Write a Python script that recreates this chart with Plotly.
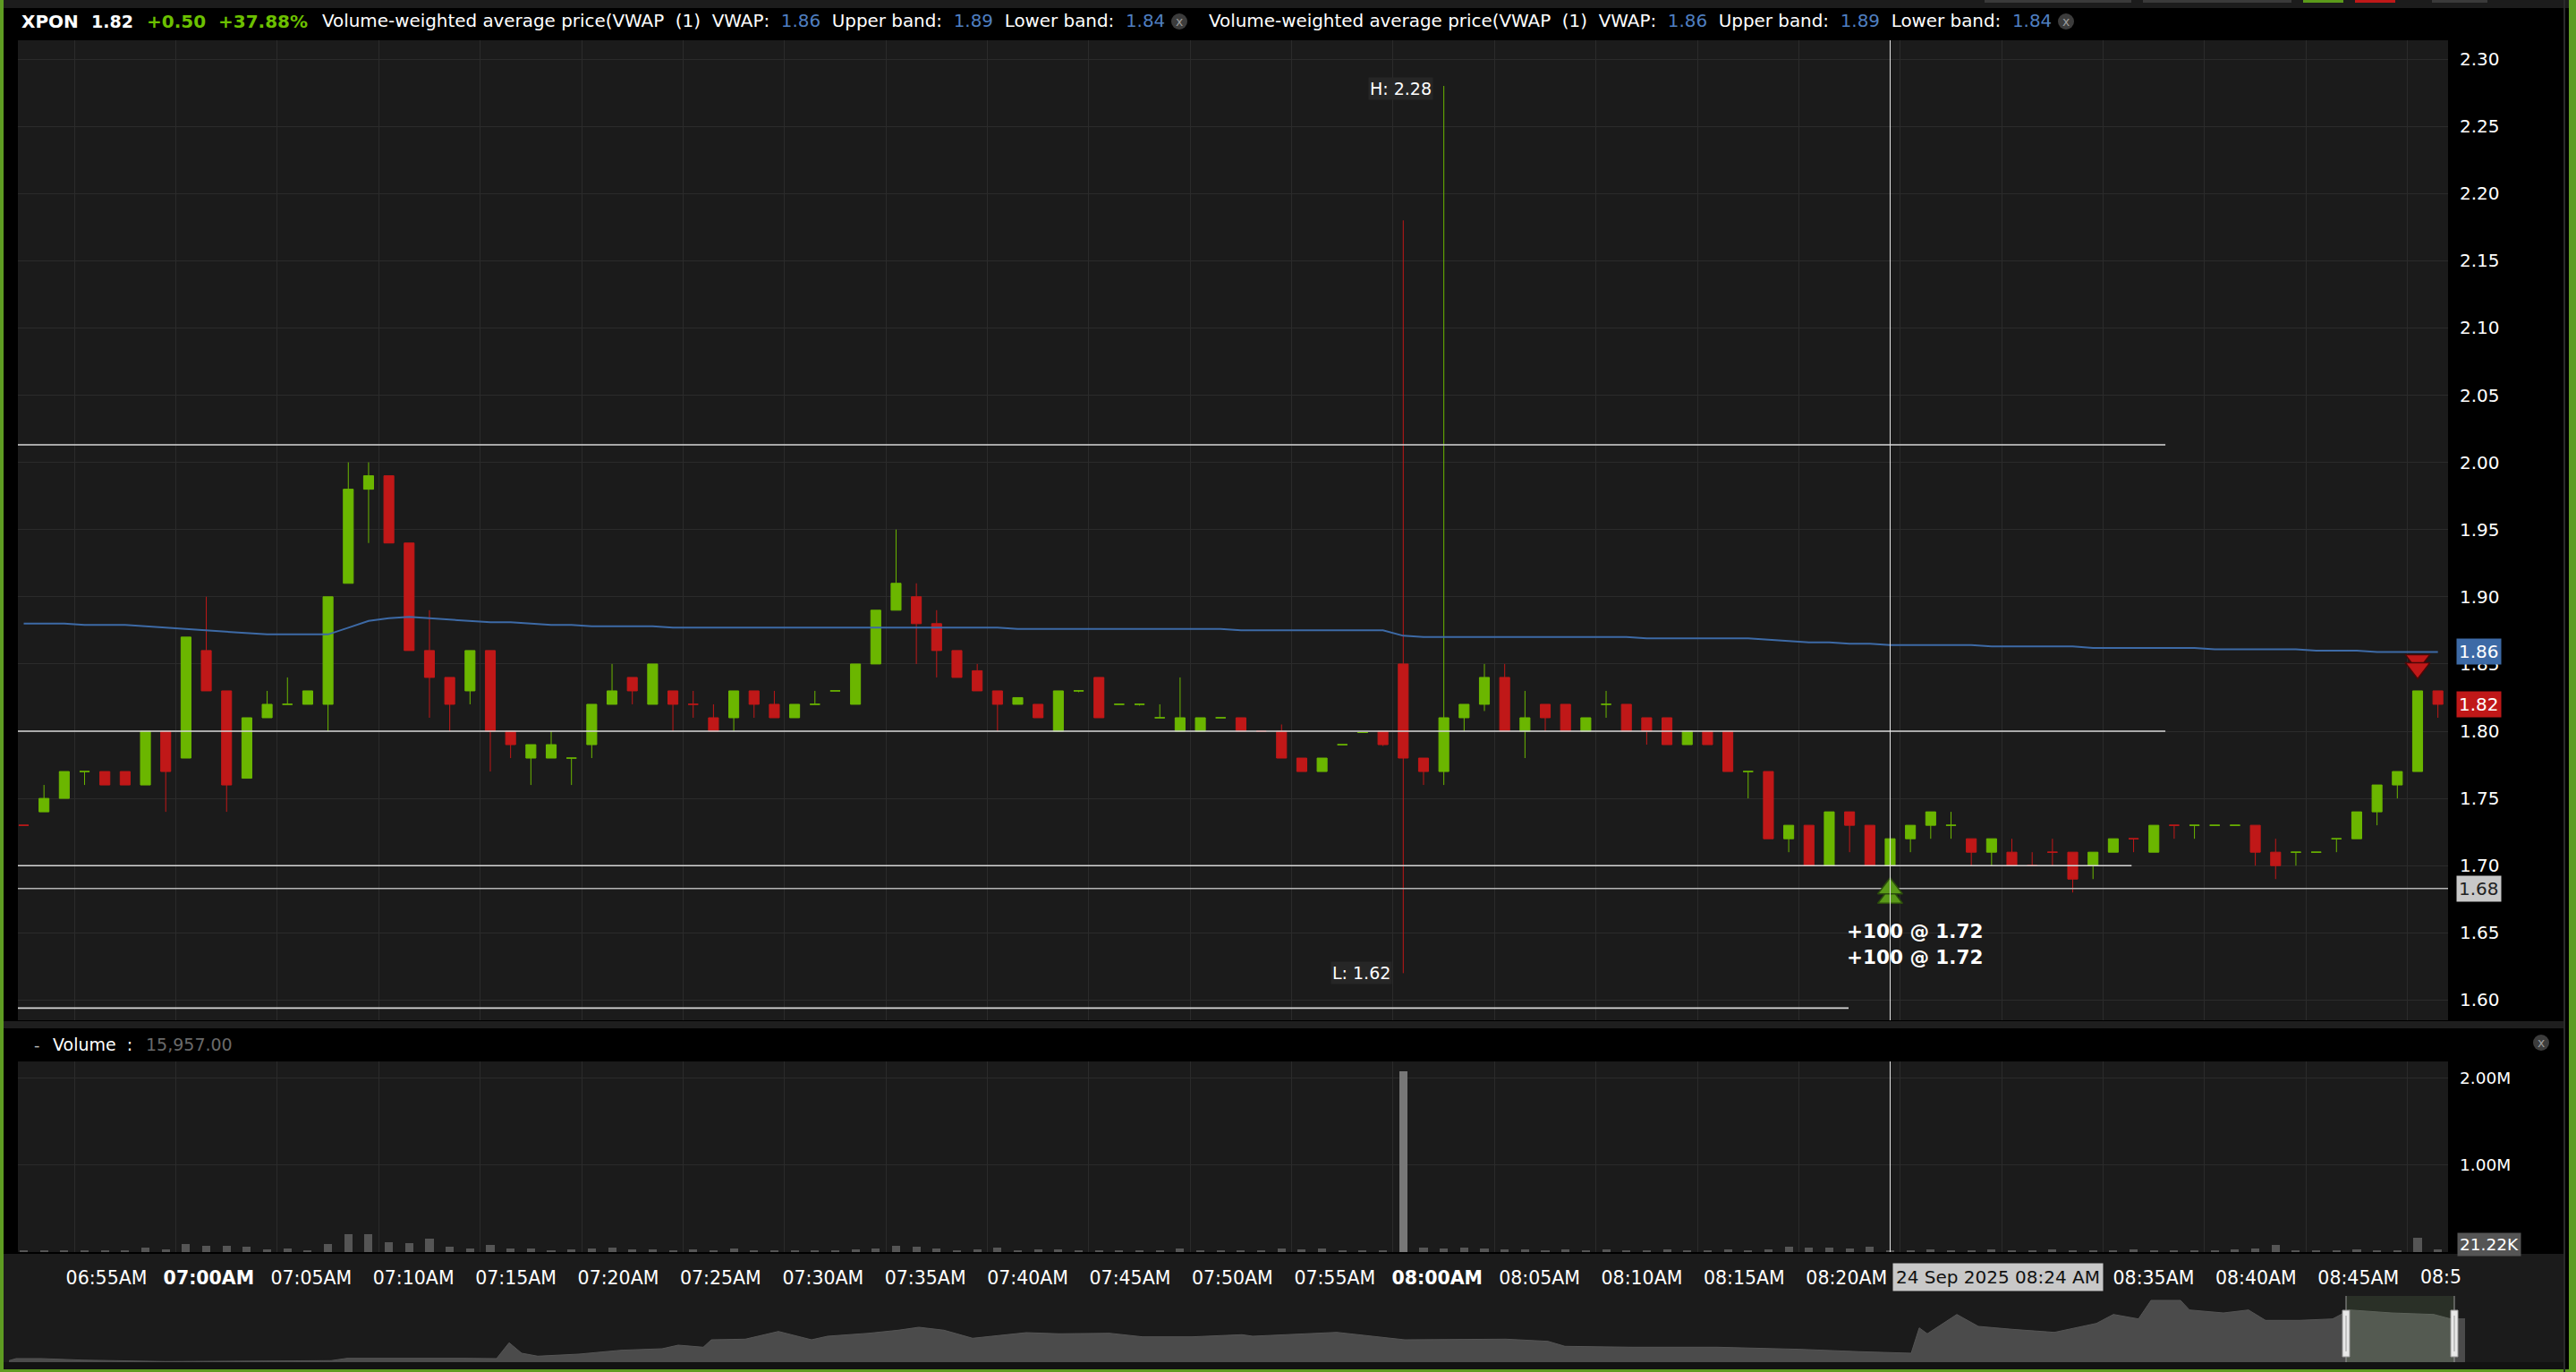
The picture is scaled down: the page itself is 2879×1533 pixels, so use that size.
import plotly.graph_objects as go
import pandas as pd

# ------------------------------------------------------------------ data
SESSION_START = "2025-09-24 06:52"          # first 1-minute bar shown
opens = [1.73, 1.74, 1.75, 1.77, 1.77, 1.77, 1.76, 1.80, 1.78, 1.86,
         1.83, 1.765, 1.81, 1.82, 1.82, 1.82, 1.91, 1.98, 1.99, 1.94,
         1.86, 1.84, 1.83, 1.86, 1.80, 1.78, 1.78, 1.78, 1.79, 1.82,
         1.84, 1.82, 1.83, 1.82, 1.81, 1.81, 1.83, 1.82, 1.81, 1.82,
         1.83, 1.82, 1.85, 1.89, 1.90, 1.88, 1.86, 1.845, 1.83, 1.82,
         1.82, 1.80, 1.83, 1.84, 1.82, 1.82, 1.81, 1.80, 1.80, 1.81,
         1.81, 1.80, 1.80, 1.78, 1.77, 1.79, 1.799, 1.80, 1.85, 1.78,
         1.77, 1.81, 1.82, 1.84, 1.80, 1.82, 1.82, 1.80, 1.82, 1.82,
         1.81, 1.81, 1.79, 1.80, 1.80, 1.77, 1.77, 1.72, 1.73, 1.70,
         1.74, 1.73, 1.70, 1.72, 1.73, 1.73, 1.72, 1.71, 1.71, 1.70,
         1.71, 1.71, 1.70, 1.71, 1.72, 1.71, 1.73, 1.73, 1.73, 1.73,
         1.73, 1.71, 1.71, 1.71, 1.72, 1.72, 1.74, 1.76, 1.77, 1.83]
highs = [1.73, 1.76, 1.77, 1.77, 1.77, 1.77, 1.80, 1.80, 1.87, 1.90,
         1.83, 1.81, 1.83, 1.84, 1.83, 1.90, 2.00, 2.00, 1.99, 1.94,
         1.89, 1.84, 1.86, 1.86, 1.80, 1.79, 1.80, 1.78, 1.82, 1.85,
         1.84, 1.85, 1.83, 1.83, 1.82, 1.83, 1.83, 1.83, 1.82, 1.83,
         1.83, 1.85, 1.89, 1.95, 1.91, 1.89, 1.86, 1.85, 1.83, 1.825,
         1.82, 1.83, 1.83, 1.84, 1.82, 1.82, 1.82, 1.84, 1.81, 1.81,
         1.81, 1.80, 1.805, 1.78, 1.78, 1.79, 1.799, 1.80, 2.18, 1.78,
         2.28, 1.82, 1.85, 1.85, 1.83, 1.82, 1.82, 1.81, 1.83, 1.82,
         1.81, 1.81, 1.80, 1.80, 1.80, 1.77, 1.77, 1.73, 1.73, 1.74,
         1.74, 1.73, 1.72, 1.73, 1.74, 1.74, 1.72, 1.72, 1.72, 1.71,
         1.72, 1.71, 1.71, 1.72, 1.72, 1.73, 1.73, 1.73, 1.73, 1.73,
         1.73, 1.72, 1.71, 1.71, 1.72, 1.74, 1.76, 1.77, 1.83, 1.83]
lows = [1.73, 1.74, 1.75, 1.76, 1.76, 1.76, 1.76, 1.74, 1.78, 1.83,
        1.74, 1.765, 1.81, 1.82, 1.82, 1.80, 1.91, 1.94, 1.94, 1.86,
        1.81, 1.80, 1.82, 1.77, 1.78, 1.76, 1.78, 1.76, 1.78, 1.82,
        1.82, 1.82, 1.80, 1.81, 1.80, 1.80, 1.81, 1.81, 1.81, 1.82,
        1.83, 1.82, 1.85, 1.89, 1.85, 1.84, 1.84, 1.83, 1.80, 1.82,
        1.81, 1.80, 1.829, 1.81, 1.82, 1.819, 1.81, 1.80, 1.80, 1.81,
        1.80, 1.80, 1.78, 1.77, 1.77, 1.79, 1.799, 1.789, 1.62, 1.76,
        1.76, 1.80, 1.815, 1.80, 1.78, 1.80, 1.80, 1.80, 1.81, 1.80,
        1.79, 1.79, 1.79, 1.79, 1.77, 1.75, 1.72, 1.71, 1.70, 1.70,
        1.71, 1.70, 1.70, 1.71, 1.72, 1.72, 1.70, 1.70, 1.70, 1.70,
        1.70, 1.68, 1.69, 1.71, 1.71, 1.71, 1.72, 1.72, 1.73, 1.73,
        1.70, 1.69, 1.70, 1.71, 1.71, 1.72, 1.73, 1.75, 1.77, 1.81]
closes = [1.73, 1.75, 1.77, 1.77, 1.76, 1.76, 1.80, 1.77, 1.87, 1.83,
          1.76, 1.81, 1.82, 1.82, 1.83, 1.90, 1.98, 1.99, 1.94, 1.86,
          1.84, 1.82, 1.86, 1.80, 1.79, 1.79, 1.79, 1.78, 1.82, 1.83,
          1.83, 1.85, 1.82, 1.82, 1.80, 1.83, 1.82, 1.81, 1.82, 1.82,
          1.83, 1.85, 1.89, 1.91, 1.88, 1.86, 1.84, 1.83, 1.82, 1.825,
          1.81, 1.83, 1.83, 1.81, 1.82, 1.82, 1.81, 1.81, 1.81, 1.81,
          1.80, 1.80, 1.78, 1.77, 1.78, 1.79, 1.799, 1.79, 1.78, 1.77,
          1.81, 1.82, 1.84, 1.80, 1.81, 1.81, 1.80, 1.81, 1.82, 1.80,
          1.80, 1.79, 1.80, 1.79, 1.77, 1.77, 1.72, 1.73, 1.70, 1.74,
          1.73, 1.70, 1.72, 1.73, 1.74, 1.73, 1.71, 1.72, 1.70, 1.70,
          1.71, 1.69, 1.71, 1.72, 1.72, 1.73, 1.73, 1.73, 1.73, 1.73,
          1.71, 1.70, 1.71, 1.71, 1.72, 1.74, 1.76, 1.77, 1.83, 1.82]
# 1 = green (up) candle, 0 = red (down) candle
up = [0, 1, 1, 1, 0, 0, 1, 0, 1, 0,
      0, 1, 1, 1, 1, 1, 1, 1, 0, 0,
      0, 0, 1, 0, 0, 1, 1, 1, 1, 1,
      0, 1, 0, 0, 0, 1, 0, 0, 1, 1,
      1, 1, 1, 1, 0, 0, 0, 0, 0, 1,
      0, 1, 1, 0, 1, 1, 1, 1, 1, 1,
      0, 0, 0, 0, 1, 1, 1, 0, 0, 0,
      1, 1, 1, 0, 1, 0, 0, 1, 1, 0,
      0, 0, 1, 0, 0, 1, 0, 1, 0, 1,
      0, 0, 1, 1, 1, 1, 0, 1, 0, 0,
      0, 0, 1, 1, 0, 1, 0, 1, 1, 1,
      0, 0, 1, 1, 1, 1, 1, 1, 1, 0]
volumes = [14000, 14000, 13000, 14000, 13000, 14000, 45000, 24000, 86000, 65000,
           65000, 55000, 24000, 34000, 13000, 86000, 200000, 200000, 106000, 96000,
           148000, 55000, 34000, 76000, 34000, 34000, 14000, 24000, 34000, 45000,
           24000, 24000, 14000, 24000, 14000, 34000, 14000, 14000, 13000, 14000,
           13000, 24000, 34000, 65000, 55000, 34000, 14000, 24000, 45000, 14000,
           24000, 24000, 14000, 14000, 13000, 14000, 13000, 34000, 14000, 13000,
           14000, 12000, 34000, 24000, 34000, 14000, 13000, 14000, 2080000, 45000,
           34000, 45000, 34000, 24000, 24000, 14000, 24000, 14000, 24000, 14000,
           14000, 24000, 14000, 14000, 24000, 14000, 24000, 62000, 45000, 45000,
           34000, 55000, 15957, 14000, 24000, 14000, 14000, 24000, 14000, 14000,
           24000, 14000, 14000, 14000, 24000, 14000, 14000, 14000, 14000, 24000,
           34000, 76000, 14000, 14000, 14000, 24000, 14000, 14000, 155000, 21220]
vwap = [1.880, 1.880, 1.880, 1.879, 1.879, 1.879, 1.878, 1.877, 1.876, 1.875,
        1.874, 1.873, 1.872, 1.872, 1.872, 1.872, 1.877, 1.882, 1.884, 1.885,
        1.884, 1.883, 1.882, 1.881, 1.881, 1.880, 1.879, 1.879, 1.878, 1.878,
        1.878, 1.878, 1.877, 1.877, 1.877, 1.877, 1.877, 1.877, 1.877, 1.877,
        1.877, 1.877, 1.877, 1.877, 1.877, 1.877, 1.877, 1.877, 1.877, 1.876,
        1.876, 1.876, 1.876, 1.876, 1.876, 1.876, 1.876, 1.876, 1.876, 1.876,
        1.875, 1.875, 1.875, 1.875, 1.875, 1.875, 1.875, 1.875, 1.871, 1.870,
        1.870, 1.870, 1.870, 1.870, 1.870, 1.870, 1.870, 1.870, 1.870, 1.870,
        1.869, 1.869, 1.869, 1.869, 1.869, 1.869, 1.868, 1.867, 1.866, 1.866,
        1.865, 1.865, 1.864, 1.864, 1.864, 1.864, 1.864, 1.863, 1.863, 1.863,
        1.863, 1.863, 1.862, 1.862, 1.862, 1.862, 1.862, 1.862, 1.861, 1.861,
        1.861, 1.861, 1.861, 1.860, 1.860, 1.860, 1.859, 1.859, 1.859, 1.859]

# horizontal price-level lines: price and the time where each line stops
level_prices = [2.013, 1.80, 1.70, 1.683, 1.594]
level_ends = ["08:38:04", "08:38:04", "08:36:24", "08:53:00", "08:22:27"]

# x-axis labels (every 5 minutes); 08:25 / 08:30 sit under the crosshair time box
tick_times = ["06:55", "07:00", "07:05", "07:10", "07:15", "07:20", "07:25", "07:30",
              "07:35", "07:40", "07:45", "07:50", "07:55", "08:00", "08:05", "08:10",
              "08:15", "08:20", "08:25", "08:30", "08:35", "08:40", "08:45", "08:50"]
bold_ticks = ["07:00", "08:00"]
hidden_ticks = ["08:25", "08:30"]

# trades
buy_time, buy_price, buy_marker = "08:24", 1.72, 1.683
sell_time, sell_marker = "08:50", 1.847

# navigator (whole history, minutes index -> relative price level)
nav_minutes = [10, 18, 46, 92, 185, 277, 370, 388, 462, 518, 555, 569, 583, 601, 647, 694,
               740, 758, 786, 795, 833, 870, 907, 925, 971, 1004, 1027, 1055, 1087, 1110,
               1147, 1184, 1240, 1277, 1332, 1388, 1400, 1494, 1570, 1683, 1730, 1749, 1824,
               1919, 2013, 2079, 2136, 2145, 2154, 2187, 2211, 2249, 2296, 2343, 2362, 2390,
               2404, 2437, 2447, 2485, 2513, 2532, 2570, 2607, 2626, 2673, 2720, 2739, 2755]
nav_level = [1.7, 4, 4, 2.3, 0.7, 1.3, 1.7, 4.3, 4.7, 4.3, 4, 21.7, 10, 6.7, 9, 13.3,
             15, 19, 16.7, 25, 25.7, 34.3, 25, 29, 32.3, 35.7, 39, 35.7, 26.7, 29,
             33, 31.7, 32.3, 28.3, 28.3, 30.7, 29, 33.3, 25, 25.7, 23.3, 17.7, 16.7,
             16.7, 14.3, 11.7, 10, 38.3, 31.7, 53.3, 40, 36.7, 33.3, 43.3, 53.3, 48.3,
             69, 69, 58.3, 55, 58.3, 46.7, 46.7, 48.3, 58.3, 55, 53.3, 48.3, 48.3]
nav_window = [2622, 2743]

# ------------------------------------------------------------------ geometry helpers
W, H = 2879, 1533
ML, MR, MT, MB = 10, 124, 45, 11
PW, PH = W - ML - MR, H - MT - MB


def px(X):
    return (X - ML) / PW


def py(Y):
    return (H - MB - Y) / PH


DAY = "2025-09-24 "
n = len(opens)
bar_start = pd.date_range(SESSION_START, periods=n, freq="1min")
bar_mid = bar_start + pd.Timedelta(seconds=30)
x_range = [pd.Timestamp(DAY + "06:52:12.8"), pd.Timestamp(DAY + "08:52:00")]

GREEN = "#6bb600"
RED = "#c01818"
BLUE = "#3d6aa6"
GRID = "#2b2b2b"
PLOTBG = "#1b1b1b"
FONT = "DejaVu Sans"

fig = go.Figure()

# candles (one trace per colour so flat bars keep their own colour)
for flag, col in ((1, GREEN), (0, RED)):
    idx = [i for i in range(n) if up[i] == flag]
    fig.add_trace(go.Candlestick(
        x=[bar_mid[i] for i in idx],
        open=[opens[i] for i in idx], high=[highs[i] for i in idx],
        low=[lows[i] for i in idx], close=[closes[i] for i in idx],
        increasing=dict(line=dict(color=col, width=1), fillcolor=col),
        decreasing=dict(line=dict(color=col, width=1), fillcolor=col),
        whiskerwidth=0, showlegend=False, hoverinfo="skip",
        xaxis="x", yaxis="y"))

# VWAP
fig.add_trace(go.Scatter(x=bar_mid, y=vwap, mode="lines",
                         line=dict(color=BLUE, width=2),
                         showlegend=False, hoverinfo="skip", xaxis="x", yaxis="y"))

# level lines
for p, e in zip(level_prices, level_ends):
    col = "#b4b4b4" if abs(p - 1.683) < 1e-9 else "#d8d8d8"
    fig.add_trace(go.Scatter(x=[x_range[0] - pd.Timedelta(minutes=1), pd.Timestamp(DAY + e)],
                             y=[p, p], mode="lines", line=dict(color=col, width=1.6),
                             showlegend=False, hoverinfo="skip", xaxis="x", yaxis="y"))

# trade markers (double chevrons)
bt = pd.Timestamp(DAY + buy_time) + pd.Timedelta(seconds=30)
st = pd.Timestamp(DAY + sell_time) + pd.Timedelta(seconds=30)
fig.add_trace(go.Scatter(x=[bt, bt], y=[buy_marker - 0.007, buy_marker], mode="markers",
                         marker=dict(symbol="triangle-up", size=24, color="#5a9a18",
                                     line=dict(color="#2c4d0c", width=1.5)),
                         showlegend=False, hoverinfo="skip", xaxis="x", yaxis="y"))
fig.add_trace(go.Scatter(x=[st, st], y=[sell_marker + 0.006, sell_marker], mode="markers",
                         marker=dict(symbol="triangle-down", size=24, color="#c01818",
                                     line=dict(color="#4a0808", width=1.5)),
                         showlegend=False, hoverinfo="skip", xaxis="x", yaxis="y"))

# volume
vcol = ["#777777" if v > 1e6 else "#555555" for v in volumes]
fig.add_trace(go.Bar(x=bar_mid, y=volumes, width=24000, marker=dict(color=vcol, line=dict(width=0)),
                     showlegend=False, hoverinfo="skip", xaxis="x2", yaxis="y2"))

# navigator
fig.add_trace(go.Scatter(x=nav_minutes, y=nav_level, mode="lines", fill="tozeroy",
                         line=dict(color="#555555", width=1), fillcolor="#4b4b4b",
                         showlegend=False, hoverinfo="skip", xaxis="x3", yaxis="y3"))

# ------------------------------------------------------------------ axes
grid_vals = [pd.Timestamp(DAY + t) for t in tick_times]
# labels are drawn slightly right of the grid lines (as in the source chart)
lab_vals = [pd.Timestamp(DAY + "06:55") + pd.Timedelta(minutes=1.579 + k * 5 * 1.00909)
            for k in range(len(tick_times))]
lab_text = []
for t in tick_times:
    s = f"{t}AM"
    if t in hidden_ticks:
        s = ""
    elif t in bold_ticks:
        s = f"<b>{s}</b>"
    lab_text.append(s)

dom_x = [px(20), px(2736)]
fig.update_layout(
    width=W, height=H,
    margin=dict(l=ML, r=MR, t=MT, b=MB),
    paper_bgcolor="#000000", plot_bgcolor=PLOTBG,
    font=dict(family=FONT, color="#ffffff", size=20),
    showlegend=False, bargap=0, hovermode=False,
    xaxis=dict(domain=dom_x, anchor="y", matches="x2", range=x_range, type="date",
               showticklabels=False, tickvals=grid_vals, showgrid=True, gridcolor=GRID,
               gridwidth=1, zeroline=False, showline=False, ticks="",
               rangeslider=dict(visible=False)),
    yaxis=dict(domain=[py(1140), 1.0], anchor="x", side="right",
               range=[1.80 - (1140 - 817) / 1502, 1.80 + (817 - 45) / 1502],
               tickvals=[1.60 + 0.05 * k for k in range(15)],
               ticktext=[f"{1.60 + 0.05 * k:.2f}" for k in range(15)],
               showgrid=True, gridcolor=GRID, zeroline=False, ticks="",
               tickfont=dict(family=FONT, size=20, color="#ffffff"),
               ticklabelstandoff=12),
    xaxis2=dict(domain=dom_x, anchor="y2", range=x_range, type="date",
                tickvals=lab_vals, ticktext=lab_text, showgrid=False, zeroline=False, ticks="",
                tickfont=dict(family=FONT, size=20.5, color="#ffffff"), ticklabelstandoff=14,
                minor=dict(tickvals=grid_vals, showgrid=True, gridcolor=GRID, ticks="")),
    yaxis2=dict(domain=[py(1399), py(1186)], anchor="x2", side="right",
                range=[-5000, 2190000], tickvals=[1e6, 2e6], ticktext=["1.00M", "2.00M"],
                showgrid=True, gridcolor=GRID, zeroline=False, ticks="",
                tickfont=dict(family=FONT, size=18.5, color="#ffffff"), ticklabelstandoff=12),
    xaxis3=dict(domain=[0, 1], anchor="y3", range=[10, 2755], visible=False),
    yaxis3=dict(domain=[0, py(1448)], anchor="x3", range=[0, 74], visible=False),
)

# ------------------------------------------------------------------ frame / background shapes
shapes = []


def prect(x0, y0, x1, y1, color, layer="below", line=None):
    shapes.append(dict(type="rect", xref="paper", yref="paper", x0=px(x0), x1=px(x1),
                       y0=py(y1), y1=py(y0), fillcolor=color, layer=layer,
                       line=line or dict(width=0)))


prect(0, 0, 2879, 9, "#1c1c1c")                # top toolbar strip
prect(0, 1141, 2866, 1149, "#1e1e1e")          # separator main/volume
prect(0, 1401, 2866, 1522, "#1b1b1b")          # x-label row + navigator
prect(0, 1522, 2866, 1530, "#121212")
# toolbar buttons (bottom edge visible)
for x0, x1, c in ((2218, 2382, "#3a3a3a"), (2395, 2561, "#3a3a3a"), (2574, 2619, "#5b9a1a"),
                  (2632, 2677, "#c01818"), (2718, 2780, "#3a3a3a")):
    prect(x0, -4, x1, 3, c, layer="above")
# green window frame
prect(0, 0, 4, 1533, "#5e9c22", layer="above")
prect(2871, 0, 2879, 1533, "#5e9c22", layer="above")
prect(0, 1530, 2879, 1533, "#5e9c22", layer="above")
prect(2865, 0, 2867, 1533, "#2a2a2a", layer="above")

# crosshair through both panes
for yr in ("y domain", "y2 domain"):
    shapes.append(dict(type="line", xref="x", yref=yr, x0=bt, x1=bt, y0=0, y1=1,
                       line=dict(color="#e6e6e6", width=1), layer="above"))

# navigator window
w0, w1 = nav_window
shapes.append(dict(type="rect", xref="x3", yref="y3", x0=w0, x1=w1, y0=0, y1=74,
                   fillcolor="rgba(150,190,120,0.13)", line=dict(width=0), layer="above"))
for wx in nav_window:
    shapes.append(dict(type="line", xref="x3", yref="y3", x0=wx, x1=wx, y0=0, y1=74,
                       line=dict(color="#9a9a9a", width=1), layer="above"))
    shapes.append(dict(type="rect", xref="x3", yref="y3", x0=wx - 4, x1=wx + 4, y0=6, y1=58,
                       fillcolor="#e8e8e8", line=dict(color="#9a9a9a", width=1), layer="above"))
    shapes.append(dict(type="line", xref="x3", yref="y3", x0=wx, x1=wx, y0=12, y1=52,
                       line=dict(color="#9a9a9a", width=1), layer="above"))

# close buttons
CLOSE_BTNS = ((1318, 24), (2309, 24), (2840, 1165))
for cx, cy in CLOSE_BTNS:
    shapes.append(dict(type="circle", xref="paper", yref="paper",
                       x0=px(cx - 9), x1=px(cx + 9), y0=py(cy + 9), y1=py(cy - 9),
                       fillcolor="#3c3c3c", line=dict(width=0), layer="above"))
fig.update_layout(shapes=shapes)

# ------------------------------------------------------------------ annotations
ann = []


def ptext(X, Y, text, size=20, color="#ffffff", xanchor="left", **kw):
    ann.append(dict(xref="paper", yref="paper", x=px(X), y=py(Y), text=text, showarrow=False,
                    xanchor=xanchor, yanchor="middle", borderpad=0,
                    font=dict(family=FONT, size=size, color=color), **kw))


ptext(23, 24, "<b>XPON</b>")
ptext(101, 24, "<b>1.82</b>", size=19)
ptext(163, 24, "<b>+0.50</b>", color="#6cc000")
ptext(243, 24, "<b>+37.88%</b>", color="#6cc000")
SP = "&nbsp; "
blue = "<span style='color:#4f7fc0'>{}</span>"
legend_txt = ("Volume-weighted average price(VWAP" + SP + "(1)" + SP + "VWAP:" + SP + blue.format("1.86")
              + SP + "Upper band:" + SP + blue.format("1.89") + SP + "Lower band:" + SP + blue.format("1.84"))
ptext(359, 24, legend_txt, size=19.9)
ptext(1350, 24, legend_txt, size=19.9)
for cx, cy in CLOSE_BTNS:
    ptext(cx, cy, "x", size=14, color="#9a9a9a", xanchor="center")

# volume header
ptext(37, 1167, "-", size=18, color="#bbbbbb")
ptext(58, 1167, "Volume&nbsp;&nbsp;:", size=19)
ptext(162, 1167, "15,957.00", size=19, color="#6a6a6a")

# last x label, cut by the plot edge in the source chart
ptext(2704, 1427, "08:5", size=20.5)

# price-axis value boxes
for val, bg, fg in ((vwap[-1], "#3d6aa6", "#ffffff"), (closes[-1], "#c01818", "#ffffff"),
                    (level_prices[3], "#c8c8c8", "#222222")):
    ann.append(dict(xref="paper", yref="y", x=px(2745), y=val, text=f"{val:.2f}", showarrow=False,
                    xanchor="left", yanchor="middle", bgcolor=bg, borderpad=2,
                    font=dict(family=FONT, size=20, color=fg)))
# volume-axis value box
ann.append(dict(xref="paper", yref="paper", x=px(2746), y=py(1390), text="21.22K", showarrow=False,
                xanchor="left", yanchor="middle", bgcolor="#555555", borderpad=2,
                font=dict(family=FONT, size=18.5, color="#ffffff")))

# high / low labels
i_hi = max(range(n), key=lambda i: highs[i])
i_lo = min(range(n), key=lambda i: lows[i])
ann.append(dict(xref="x", yref="y", x=bar_mid[i_hi], y=highs[i_hi], text=f"H: {highs[i_hi]:.2f}",
                showarrow=False, xanchor="right", yanchor="middle", xshift=-12, yshift=-3,
                bgcolor="#262626", font=dict(family=FONT, size=19, color="#ffffff")))
ann.append(dict(xref="x", yref="y", x=bar_mid[i_lo], y=lows[i_lo], text=f"L: {lows[i_lo]:.2f}",
                showarrow=False, xanchor="right", yanchor="middle", xshift=-12,
                bgcolor="#262626", font=dict(family=FONT, size=19, color="#ffffff")))

# trade labels
for k in range(2):
    ann.append(dict(xref="x", yref="y", x=bt, y=buy_marker, text=f"<b>+100 @ {buy_price:.2f}</b>",
                    showarrow=False, xanchor="center", yanchor="middle", xshift=28,
                    yshift=-48 - 29 * k, font=dict(family=FONT, size=21.5, color="#ffffff")))

# crosshair time label
ann.append(dict(xref="x2", yref="paper", x=bt, y=py(1427), text="24 Sep 2025 08:24 AM",
                showarrow=False, xanchor="left", yanchor="middle", xshift=3,
                bgcolor="#c8c8c8", borderpad=3, font=dict(family=FONT, size=20, color="#111111")))

fig.update_layout(annotations=ann)
fig.write_html("out.html", config={"responsive": False, "displayModeBar": False},
               post_script="document.body.style.margin='0px';"
                           "document.body.style.overflow='hidden';"
                           "document.body.style.background='#000';")
